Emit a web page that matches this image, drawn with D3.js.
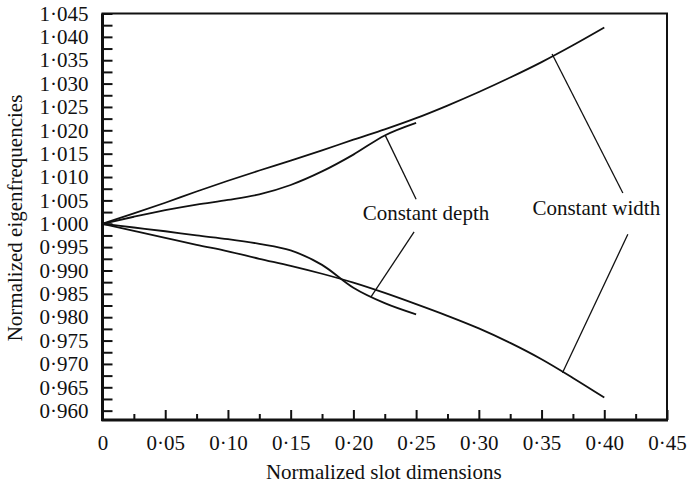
<!DOCTYPE html>
<meta charset="utf-8">
<style>
body { margin: 0; background: #fff; }
svg text { font-family: "Liberation Serif", "DejaVu Serif", serif; fill: #111; }
</style>
<body>
<script src="https://cdn.jsdelivr.net/npm/d3@7"></script>
<script>

// slot dimension values (x) for each curve
var widthX = [0, 0.025, 0.05, 0.075, 0.10, 0.125, 0.15, 0.175, 0.20, 0.225, 0.25, 0.275, 0.30, 0.325, 0.35, 0.375, 0.40];
var depthX = [0, 0.025, 0.05, 0.075, 0.10, 0.125, 0.15, 0.175, 0.20, 0.225, 0.25];

// constant width, upper and lower branch
var widthUpper = [1.0000, 1.0022, 1.0045, 1.0069, 1.0092, 1.0114, 1.0135, 1.0157, 1.0180, 1.0202, 1.0226, 1.0253, 1.0282, 1.0313, 1.0346, 1.0382, 1.0420];
var widthLower = [1.0000, 0.9985, 0.9970, 0.9955, 0.9941, 0.9925, 0.9910, 0.9893, 0.9874, 0.9852, 0.9828, 0.9803, 0.9776, 0.9745, 0.9710, 0.9670, 0.9628];

// constant depth, upper and lower branch
var depthUpper = [1.0000, 1.0015, 1.0029, 1.0041, 1.0051, 1.0063, 1.0083, 1.0112, 1.0148, 1.0189, 1.0216];
var depthLower = [1.0000, 0.9992, 0.9984, 0.9975, 0.9967, 0.9957, 0.9943, 0.9912, 0.9863, 0.9830, 0.9806];

var xTicks = [0, 0.05, 0.10, 0.15, 0.20, 0.25, 0.30, 0.35, 0.40, 0.45];
var yTicks = [0.960, 0.965, 0.970, 0.975, 0.980, 0.985, 0.990, 0.995, 1.000,
              1.005, 1.010, 1.015, 1.020, 1.025, 1.030, 1.035, 1.040, 1.045];

// annotation labels and their pointer lines, in data units
var labels = [
  {text: "Constant depth", x: 0.2074, y: 1.00075},
  {text: "Constant width", x: 0.3427, y: 1.00182}
];
var pointers = [
  [[0.2253, 1.01897], [0.2500, 1.00525]],
  [[0.2484, 0.99824], [0.2139, 0.98431]],
  [[0.3584, 1.03632], [0.4148, 1.00660]],
  [[0.4188, 0.99775], [0.3667, 0.96811]]
];

var w = 692, h = 487;
var padL = 102.5, padR = 667, padT = 13.5, padB = 420;

var svg = d3.select("body")
            .append("svg")
            .attr("width", w)
            .attr("height", h);

var x = d3.scaleLinear().domain([0, 0.45]).range([padL, padR]);
var y = d3.scaleLinear().domain([0.958, 1.045]).range([padB, padT]);

function dotFmt(f) {
  return function(d) { return d === 0 ? "0" : d3.format(f)(d).replace(".", "\u00b7"); };
}

// minor ticks
var xMinor = xTicks.slice(0, -1).map(function(d) { return d + 0.025; });
var yMinor = yTicks.slice(0, -1).map(function(d) { return d + 0.0025; });

svg.append("g")
   .attr("transform", "translate(0," + padB + ")")
   .call(d3.axisBottom(x).tickValues(xMinor).tickSizeInner(-6).tickSizeOuter(0).tickFormat(""))
   .call(function(g) { g.select(".domain").remove(); });

svg.append("g")
   .attr("transform", "translate(" + padL + ",0)")
   .call(d3.axisLeft(y).tickValues(yMinor).tickSizeInner(-10).tickSizeOuter(0).tickFormat(""))
   .call(function(g) { g.select(".domain").remove(); });

// major ticks with labels
var xAxis = svg.append("g")
   .attr("transform", "translate(0," + padB + ")")
   .call(d3.axisBottom(x).tickValues(xTicks).tickSizeInner(-10).tickSizeOuter(0)
           .tickPadding(15).tickFormat(dotFmt(".2f")));
xAxis.select(".domain").remove();

var yAxis = svg.append("g")
   .attr("transform", "translate(" + padL + ",0)")
   .call(d3.axisLeft(y).tickValues(yTicks).tickSizeInner(-10).tickSizeOuter(0)
           .tickPadding(14).tickFormat(dotFmt(".3f")));
yAxis.select(".domain").remove();

svg.selectAll(".tick line").attr("stroke", "#111").attr("stroke-width", 2);
svg.selectAll(".tick text")
   .attr("font-size", "21px")
   .attr("font-family", "Liberation Serif");

// frame
svg.append("rect")
   .attr("x", padL).attr("y", padT)
   .attr("width", padR - padL).attr("height", padB - padT)
   .attr("fill", "none").attr("stroke", "#111").attr("stroke-width", 2);
svg.append("line")
   .attr("x1", padL).attr("x2", padL).attr("y1", padT).attr("y2", padB + 1)
   .attr("stroke", "#111").attr("stroke-width", 3);
svg.append("line")
   .attr("x1", padL - 1).attr("x2", padR + 1).attr("y1", padB).attr("y2", padB)
   .attr("stroke", "#111").attr("stroke-width", 3);

// curves
var line = d3.line()
   .x(function(d) { return x(d[0]); })
   .y(function(d) { return y(d[1]); })
   .curve(d3.curveMonotoneX);

var series = [
  d3.zip(widthX, widthUpper),
  d3.zip(widthX, widthLower),
  d3.zip(depthX, depthUpper),
  d3.zip(depthX, depthLower)
];

svg.selectAll("path.curve")
   .data(series)
   .enter()
   .append("path")
   .attr("class", "curve")
   .attr("d", line)
   .attr("fill", "none")
   .attr("stroke", "#111")
   .attr("stroke-width", 1.8);

// pointers and labels
svg.selectAll("line.pointer")
   .data(pointers)
   .enter()
   .append("line")
   .attr("class", "pointer")
   .attr("x1", function(d) { return x(d[0][0]); })
   .attr("y1", function(d) { return y(d[0][1]); })
   .attr("x2", function(d) { return x(d[1][0]); })
   .attr("y2", function(d) { return y(d[1][1]); })
   .attr("stroke", "#111")
   .attr("stroke-width", 1.3);

svg.selectAll("text.label")
   .data(labels)
   .enter()
   .append("text")
   .attr("class", "label")
   .attr("x", function(d) { return x(d.x); })
   .attr("y", function(d) { return y(d.y); })
   .attr("font-size", "21px")
   .text(function(d) { return d.text; });

// axis titles
svg.append("text")
   .attr("x", (padL + padR) / 2 - 1)
   .attr("y", 479)
   .attr("text-anchor", "middle")
   .attr("font-size", "21px")
   .text("Normalized slot dimensions");

svg.append("text")
   .attr("transform", "translate(22,218) rotate(-90)")
   .attr("text-anchor", "middle")
   .attr("font-size", "21px")
   .text("Normalized eigenfrequencies");

</script>
</body>
